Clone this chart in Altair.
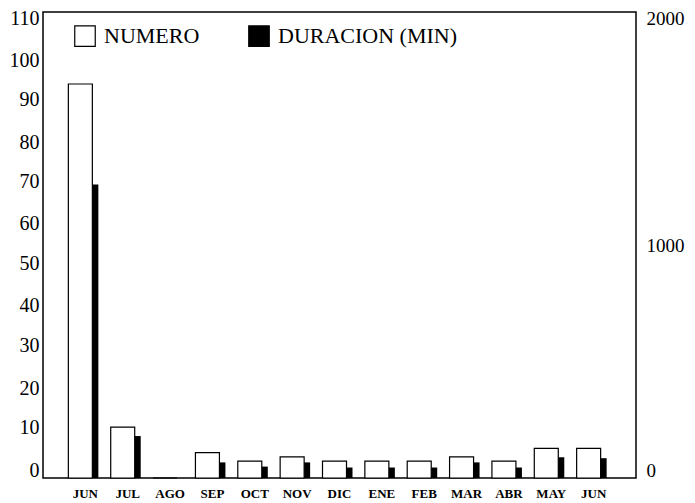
import altair as alt
import pandas as pd

months = ["JUN", "JUL", "AGO", "SEP", "OCT", "NOV", "DIC", "ENE", "FEB", "MAR", "ABR", "MAY", "JUN"]
numero = [93, 12, 0, 6, 4, 5, 4, 4, 4, 5, 4, 7, 7]
duracion = [1260, 180, 0, 67, 49, 67, 45, 45, 45, 67, 45, 89, 85]
left_ticks = [0, 10, 20, 30, 40, 50, 60, 70, 80, 90, 100, 110]
right_ticks = [0, 1000, 2000]

keys = [f"{i}:{m}" for i, m in enumerate(months)]
df = pd.DataFrame({"key": keys, "numero": numero, "duracion": duracion})

FONT = "Liberation Serif"

x_enc = alt.X(
    "key:N",
    sort=keys,
    scale=alt.Scale(paddingInner=0, paddingOuter=0.5),
    axis=alt.Axis(
        title=None,
        labelExpr="split(datum.value, ':')[1]",
        labelAngle=0,
        ticks=False,
        domain=False,
        labelFont=FONT,
        labelFontSize=13,
        labelFontWeight="bold",
        labelPadding=9,
        labelColor="black",
    ),
)

color_scale = alt.Scale(domain=["NUMERO", "DURACION (MIN)"], range=["white", "black"])
legend = alt.Legend(
    title=None,
    orient="none",
    legendX=31,
    legendY=13,
    direction="horizontal",
    symbolType="square",
    symbolSize=420,
    symbolStrokeColor="black",
    symbolStrokeWidth=1.2,
    symbolOpacity=1,
    labelFont=FONT,
    labelFontSize=22,
    labelColor="black",
    labelOffset=8,
    labelLimit=300,
    columnPadding=46,
    padding=0,
)

left_offset = {
    "condition": [
        {"test": "datum.value >= 100", "value": 6},
        {"test": "datum.value >= 80", "value": 3},
        {"test": "datum.value >= 60", "value": 0},
        {"test": "datum.value >= 40", "value": -3},
        {"test": "datum.value >= 20", "value": -5},
    ],
    "value": -8,
}
right_offset = {
    "condition": [
        {"test": "datum.value >= 2000", "value": 6},
        {"test": "datum.value >= 1000", "value": 0},
    ],
    "value": -8,
}

white = alt.Chart(df).transform_calculate(series="'NUMERO'").mark_bar(
    width=24, xOffset=-5, stroke="black", strokeWidth=1.2, opacity=1
).encode(
    x=x_enc,
    y=alt.Y(
        "numero:Q",
        scale=alt.Scale(domain=[0, 110], nice=False),
        axis=alt.Axis(
            title=None,
            values=left_ticks,
            grid=False,
            ticks=False,
            domain=False,
            labelFont=FONT,
            labelFontSize=20,
            labelPadding=4,
            labelColor="black",
            labelOffset=left_offset,
        ),
    ),
    color=alt.Color("series:N", scale=color_scale, legend=legend),
)

black = alt.Chart(df).transform_calculate(series="'DURACION (MIN)'").mark_bar(
    width=6, xOffset=10, opacity=1
).encode(
    x=x_enc,
    y=alt.Y(
        "duracion:Q",
        scale=alt.Scale(domain=[0, 2000], nice=False),
        axis=alt.Axis(
            title=None,
            orient="right",
            values=right_ticks,
            format="d",
            grid=False,
            ticks=False,
            domain=False,
            labelFont=FONT,
            labelFontSize=19,
            labelPadding=10,
            labelColor="black",
            labelOffset=right_offset,
        ),
    ),
    color=alt.Color("series:N", scale=color_scale, legend=legend),
)

chart = (
    alt.layer(white, black)
    .resolve_scale(y="independent")
    .properties(
        width=593,
        height=466,
        autosize=alt.AutoSizeParams(type="none"),
        padding={"left": 35, "top": 4, "right": 51, "bottom": 22},
        background="white",
    )
    .configure_view(stroke="black", strokeWidth=1.5)
)

chart.save("out.html", embed_options={"renderer": "svg", "actions": False})
